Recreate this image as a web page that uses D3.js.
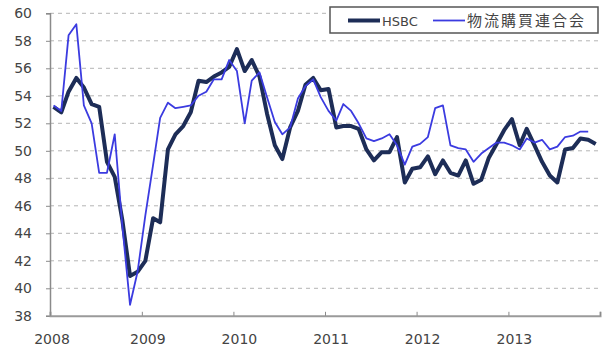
<!DOCTYPE html>
<html>
<head>
<meta charset="utf-8">
<script src="https://cdn.jsdelivr.net/npm/d3@7/dist/d3.min.js"></script>
<style>
  html, body { margin: 0; padding: 0; background: #fff; }
  svg { display: block; }
</style>
</head>
<body>
<svg id="chart" width="616" height="351"></svg>
<script>
// China manufacturing PMI, monthly, Jan 2008 – Dec 2013
const seriesNames = ["HSBC", "物流購買連合会"];

const hsbc = [
  53.2, 52.8, 54.3, 55.3, 54.6, 53.4, 53.2, 49.2, 48.1, 45.0, 40.9, 41.2,
  42.0, 45.1, 44.8, 50.1, 51.2, 51.8, 52.8, 55.1, 55.0, 55.4, 55.7, 56.1,
  57.4, 55.8, 56.6, 55.4, 52.7, 50.4, 49.4, 51.7, 52.9, 54.8, 55.3, 54.4,
  54.5, 51.7, 51.8, 51.8, 51.6, 50.1, 49.3, 49.9, 49.9, 51.0, 47.7, 48.7,
  48.8, 49.6, 48.3, 49.3, 48.4, 48.2, 49.3, 47.6, 47.9, 49.5, 50.5, 51.5,
  52.3, 50.4, 51.6, 50.4, 49.2, 48.2, 47.7, 50.1, 50.2, 50.9, 50.8, 50.5
];

const cflp = [
  53.3, 52.9, 58.4, 59.2, 53.3, 52.0, 48.4, 48.4, 51.2, 44.6, 38.8, 41.2,
  45.3, 49.0, 52.4, 53.5, 53.1, 53.2, 53.3, 54.0, 54.3, 55.2, 55.2, 56.6,
  55.8, 52.0, 55.1, 55.7, 53.9, 52.1, 51.2, 51.7, 53.8, 54.7, 55.2, 53.9,
  52.9, 52.2, 53.4, 52.9, 52.0, 50.9, 50.7, 50.9, 51.2, 50.4, 49.0, 50.3,
  50.5, 51.0, 53.1, 53.3, 50.4, 50.2, 50.1, 49.2, 49.8, 50.2, 50.6, 50.6,
  50.4, 50.1, 50.9, 50.6, 50.8, 50.1, 50.3, 51.0, 51.1, 51.4, 51.4
];

const yTicks = [38, 40, 42, 44, 46, 48, 50, 52, 54, 56, 58, 60];
const yearTicks = [2008, 2009, 2010, 2011, 2012, 2013, 2014];
const yearLabels = ["2008", "2009", "2010", "2011", "2012", "2013"];

// month starting dates; each reading is placed mid-month
const months = d3.timeMonth.range(new Date(2008, 0, 1), new Date(2014, 0, 1));
const mid = d => d3.timeDay.offset(d, 14);

const svg = d3.select("#chart");
const plotLeft = 50, plotRight = 600, plotTop = 13.3, plotBottom = 315.8;

const x = d3.scaleTime()
  .domain([new Date(2008, 0, 1), new Date(2014, 0, 1)])
  .range([plotLeft, plotRight]);
const y = d3.scaleLinear().domain([38, 60]).range([plotBottom, plotTop]);

// dashed horizontal gridlines
svg.append("g")
  .selectAll("line")
  .data(yTicks.filter(v => v > 38))
  .join("line")
  .attr("x1", plotLeft).attr("x2", plotRight)
  .attr("y1", d => y(d)).attr("y2", d => y(d))
  .attr("stroke", "#b4b4b4")
  .attr("stroke-width", 1)
  .attr("stroke-dasharray", "4,4");

// y axis
const yAxis = svg.append("g")
  .attr("transform", `translate(${plotLeft},0)`)
  .call(d3.axisLeft(y).tickValues(yTicks).tickSize(4).tickPadding(14).tickFormat(d3.format("d")));
yAxis.select(".domain").attr("stroke", "#8a8a8a").attr("stroke-width", 1.5);
yAxis.selectAll(".tick line").attr("stroke", "#8a8a8a");
yAxis.selectAll("text")
  .attr("fill", "#444")
  .style("font-family", "DejaVu Sans, sans-serif")
  .style("font-size", "14px");

// x axis
const xAxis = svg.append("g")
  .attr("transform", `translate(0,${plotBottom})`)
  .call(d3.axisBottom(x)
    .tickValues(yearTicks.map(yr => new Date(yr, 0, 1)))
    .tickSize(-4)
    .tickFormat(() => ""));
xAxis.select(".domain").attr("stroke", "#9a9a9a").attr("stroke-width", 2);
xAxis.selectAll(".tick line").attr("stroke", "#8a8a8a");

svg.append("g")
  .selectAll("text")
  .data(yearLabels)
  .join("text")
  .attr("x", (d, i) => x(new Date(+d, 0, 1)) + (i === 0 ? 2 : 6))
  .attr("y", 344)
  .attr("text-anchor", "middle")
  .attr("fill", "#444")
  .style("font-family", "DejaVu Sans, sans-serif")
  .style("font-size", "14px")
  .text(d => d);

// series lines
const line = d3.line()
  .x((d, i) => x(mid(months[i])))
  .y(d => y(d));

svg.append("path")
  .datum(hsbc)
  .attr("fill", "none")
  .attr("stroke", "#1d2d57")
  .attr("stroke-width", 4)
  .attr("stroke-linejoin", "round")
  .attr("d", line);

svg.append("path")
  .datum(cflp)
  .attr("fill", "none")
  .attr("stroke", "#3b3be0")
  .attr("stroke-width", 1.8)
  .attr("stroke-linejoin", "round")
  .attr("d", line);

// legend
const lg = svg.append("g");
lg.append("rect")
  .attr("x", 330).attr("y", 7).attr("width", 268).attr("height", 26)
  .attr("fill", "#fff").attr("stroke", "#555").attr("stroke-width", 1.5);
lg.append("line")
  .attr("x1", 348).attr("x2", 380).attr("y1", 20.5).attr("y2", 20.5)
  .attr("stroke", "#1d2d57").attr("stroke-width", 4);
lg.append("text")
  .attr("x", 382).attr("y", 25.5)
  .attr("fill", "#444")
  .style("font-family", "DejaVu Sans, sans-serif")
  .style("font-size", "13px")
  .text(seriesNames[0]);
lg.append("line")
  .attr("x1", 433).attr("x2", 465).attr("y1", 20.5).attr("y2", 20.5)
  .attr("stroke", "#3b3be0").attr("stroke-width", 1.8);
lg.append("text")
  .attr("x", 467).attr("y", 26)
  .attr("fill", "#444")
  .style("font-family", "Noto Sans CJK JP, sans-serif")
  .style("font-size", "15px")
  .style("letter-spacing", "2px")
  .text(seriesNames[1]);
</script>
</body>
</html>
